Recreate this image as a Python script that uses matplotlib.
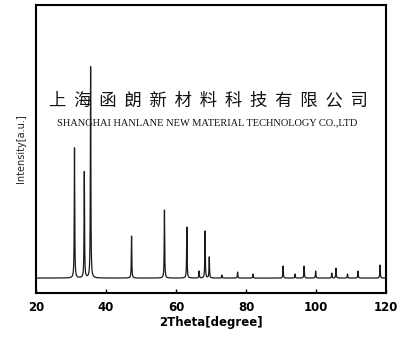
import numpy as np
import matplotlib
matplotlib.use("Agg")
import matplotlib.pyplot as plt

# Peak positions (2theta, degree) and heights (arbitrary units above background)
peak_pos = [31.0, 33.8, 35.6, 47.3, 56.7, 63.1, 66.6, 68.3, 69.5, 73.1, 77.6, 82.0,
            90.6, 94.0, 96.6, 99.9, 104.5, 105.7, 109.0, 112.0, 118.3]
peak_height = [130, 106, 211, 42, 68, 51, 7, 47, 21, 3, 6, 4,
               12, 4, 12, 7, 5, 10, 4, 7, 13]
background = 15
x_ticks = [20, 40, 60, 80, 100, 120]

fig = plt.figure(figsize=(4.0, 3.51), dpi=100)
ax = fig.add_axes([0.09, 0.165, 0.875, 0.821])

two_theta = np.arange(20.0, 120.0, 0.02)
intensity = np.full_like(two_theta, float(background))
hw = 0.08
for p, h in zip(peak_pos, peak_height):
    intensity += h * hw**2 / ((two_theta - p) ** 2 + hw**2)

ax.plot(two_theta, intensity, color="#1a1a1a", lw=0.9)

ax.set_xlim(20, 120)
ax.set_ylim(0, 288)
ax.set_xticks(x_ticks)
ax.set_xticklabels([str(t) for t in x_ticks], fontweight="bold", fontsize=8.5)
ax.set_yticks([])
ax.tick_params(axis="x", direction="in", length=3, width=1, pad=6)
for s in ax.spines.values():
    s.set_linewidth(1.5)

ax.set_xlabel("2Theta[degree]", fontweight="bold", fontsize=8.5, labelpad=1)
ax.set_ylabel("Intensity[a.u.]", fontsize=7, labelpad=7, color="#222222")

# Watermark
fig.text(0.522, 1 - 100 / 351, "上  海  函  朗  新  材  料  科  技  有  限  公  司",
         family=["Noto Sans CJK SC", "DejaVu Sans"], fontsize=12.5, fontweight="light",
         ha="center", va="center", color="#111111")
fig.text(0.519, 1 - 123 / 351, "SHANGHAI HANLANE NEW MATERIAL TECHNOLOGY CO.,LTD",
         family="Liberation Serif", fontsize=7.5, ha="center", va="center",
         color="#111111")

fig.savefig("out.png", dpi=100)
